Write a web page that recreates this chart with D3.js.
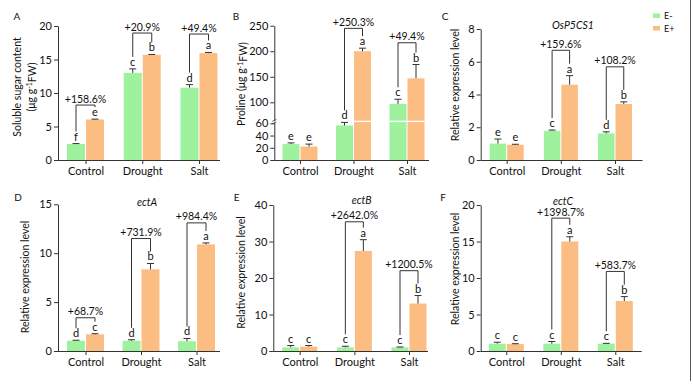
<!DOCTYPE html>
<meta charset="utf-8">
<script src="https://d3js.org/d3.v7.min.js"></script>
<style>
  body { margin: 0; background: #fff; }
  svg text { font-family: Lato, "Open Sans", sans-serif; fill: #111; }
</style>
<body>
<svg id="fig" width="693" height="384"></svg>
<script>

// categories and series
var groups = ["Control", "Drought", "Salt"];
var seriesNames = ["E-", "E+"];

// A - soluble sugar content
var sugarEm = [2.4, 13.0, 10.8], sugarEmSd = [0.05, 0.6, 0.45];
var sugarEp = [6.05, 15.7, 15.95], sugarEpSd = [0.05, 0.05, 0.1];
var sugarLetEm = ["f", "c", "d"], sugarLetEp = ["e", "b", "a"];
var sugarPct = ["+158.6%", "+20.9%", "+49.4%"];
var sugarBracket = [8.2, 18.95, 18.8];
var sugarTicks = [0, 5, 10, 15, 20];

// B - proline
var proEm = [26, 56.5, 97], proEmSd = [2, 5, 9];
var proEp = [22, 200, 147], proEpSd = [4, 6, 27];
var proLetEm = ["e", "d", "c"], proLetEp = ["e", "a", "b"];
var proPct = [null, "+250.3%", "+49.4%"];
var proBracket = [null, 244.8, 216.6];
var proTicksLow = [0, 20, 40, 60], proTicksHigh = [100, 150, 200, 250];

// C - OsP5CS1
var p5Em = [1.0, 1.78, 1.62], p5EmSd = [0.28, 0.05, 0.1];
var p5Ep = [0.93, 4.6, 3.42], p5EpSd = [0.03, 0.55, 0.13];
var p5LetEm = ["e", "c", "d"], p5LetEp = ["e", "a", "b"];
var p5Pct = [null, "+159.6%", "+108.2%"];
var p5Bracket = [null, 6.7, 5.69];
var p5Ticks = [0, 2, 4, 6, 8];

// D - ectA
var aEm = [1.05, 1.05, 1.0], aEmSd = [0.05, 0.1, 0.28];
var aEp = [1.7, 8.35, 10.9], aEpSd = [0.07, 0.6, 0.15];
var aLetEm = ["d", "d", "d"], aLetEp = ["c", "b", "a"];
var aPct = ["+68.7%", "+731.9%", "+984.4%"];
var aBracket = [3.4, 11.5, 13.1];
var aTicks = [0, 5, 10, 15];

// E - ectB
var bEm = [1.0, 1.0, 1.0], bEmSd = [0.5, 0.3, 0.1];
var bEp = [1.2, 27.4, 13.0], bEpSd = [0.3, 3.1, 2.2];
var bLetEm = ["c", "c", "c"], bLetEp = ["c", "a", "b"];
var bPct = [null, "+2642.0%", "+1200.5%"];
var bBracket = [null, 35.4, 22.0];
var bTicks = [0, 10, 20, 30, 40];

// F - ectC
var cEm = [1.0, 1.0, 1.0], cEmSd = [0.2, 0.3, 0.05];
var cEp = [0.95, 15.0, 6.85], cEpSd = [0.05, 0.65, 0.6];
var cLetEm = ["c", "c", "c"], cLetEp = ["c", "a", "b"];
var cPct = [null, "+1398.7%", "+583.7%"];
var cBracket = [null, 18.2, 10.9];
var cTicks = [0, 5, 10, 15, 20];

var colors = ["#9ef29e", "#fbbd82"];
var ink = "#333";

var svg = d3.select("#fig");
svg.append("rect").attr("width", 693).attr("height", 384).attr("fill", "#fff");

// panel layout
var panels = [
  { tag: "A", em: sugarEm, emSd: sugarEmSd, ep: sugarEp, epSd: sugarEpSd, letEm: sugarLetEm, letEp: sugarLetEp,
    pct: sugarPct, bracket: sugarBracket, ticks: sugarTicks, max: 20,
    x0: 58, x1: 220, c0: 85.5, c2: 199, bw: 18, yTop: 26, yBot: 160,
    ylab: ["Soluble sugar content", "(μg g|-1|FW)"], ylx: [17, 31], yly: 87, tagX: 17, tagY: 20 },
  { tag: "B", em: proEm, emSd: proEmSd, ep: proEp, epSd: proEpSd, letEm: proLetEm, letEp: proLetEp,
    pct: proPct, bracket: proBracket, broken: true,
    x0: 274.3, x1: 429, c0: 300, c2: 407, bw: 17, yTop: 25.7, yBot: 160,
    ylab: ["Proline (μg g|-1|FW)"], ylx: [241.7], yly: 84, tagX: 236, tagY: 20 },
  { tag: "C", em: p5Em, emSd: p5EmSd, ep: p5Ep, epSd: p5EpSd, letEm: p5LetEm, letEp: p5LetEp,
    pct: p5Pct, bracket: p5Bracket, ticks: p5Ticks, max: 8, title: "OsP5CS1", titleX: 573, titleY: 25,
    x0: 480.7, x1: 642.5, c0: 506.7, c2: 615, bw: 16.5, yTop: 29, yBot: 160,
    ylab: ["Relative expression level"], ylx: [455], yly: 85, tagX: 445, tagY: 20 },
  { tag: "D", em: aEm, emSd: aEmSd, ep: aEp, epSd: aEpSd, letEm: aLetEm, letEp: aLetEp,
    pct: aPct, bracket: aBracket, ticks: aTicks, max: 15, title: "ectA", titleX: 147, titleY: 202,
    x0: 58, x1: 220, c0: 85.5, c2: 196.5, bw: 18, yTop: 204.3, yBot: 351,
    ylab: ["Relative expression level"], ylx: [25], yly: 277, tagX: 18, tagY: 201 },
  { tag: "E", em: bEm, emSd: bEmSd, ep: bEp, epSd: bEpSd, letEm: bLetEm, letEp: bLetEp,
    pct: bPct, bracket: bBracket, ticks: bTicks, max: 40, title: "ectB", titleX: 361.7, titleY: 200,
    x0: 273.3, x1: 428, c0: 299.7, c2: 409, bw: 17, yTop: 205, yBot: 351,
    ylab: ["Relative expression level"], ylx: [241.7], yly: 272.5, tagX: 236.7, tagY: 201 },
  { tag: "F", em: cEm, emSd: cEmSd, ep: cEp, epSd: cEpSd, letEm: cLetEm, letEp: cLetEp,
    pct: cPct, bracket: cBracket, ticks: cTicks, max: 20, title: "ectC", titleX: 563, titleY: 201,
    x0: 480.7, x1: 641.7, c0: 506.3, c2: 615.3, bw: 17, yTop: 205, yBot: 351,
    ylab: ["Relative expression level"], ylx: [455], yly: 269, tagX: 443, tagY: 201 }
];

function styleAxis(g) {
  g.selectAll("path, line").attr("stroke", ink).attr("stroke-width", 1);
  g.selectAll("text").style("font-size", "11px").attr("fill", "#111");
}

function drawPanel(p) {
  var g = svg.append("g");
  var y;
  if (p.broken) {
    // two-segment scale with a small gap between 62 and 64
    y = d3.scaleLinear().domain([0, 62, 64, 250]).range([p.yBot, 122.1, 120.7, p.yTop]);
    var yLow = d3.scaleLinear().domain([0, 62]).range([p.yBot, 122.1]);
    var yHigh = d3.scaleLinear().domain([64, 250]).range([120.7, p.yTop]);
    g.append("g").attr("transform", "translate(" + p.x0 + ",0)")
      .call(d3.axisLeft(yLow).tickValues(proTicksLow).tickSize(4).tickPadding(2).tickSizeOuter(0))
      .call(styleAxis);
    g.append("g").attr("transform", "translate(" + p.x0 + ",0)")
      .call(d3.axisLeft(yHigh).tickValues(proTicksHigh).tickSize(4).tickPadding(2).tickSizeOuter(0))
      .call(styleAxis);
    // break marks on the axis
    [-1, 1.5].forEach(function (o) {
      g.append("line").attr("x1", p.x0 - 2).attr("x2", p.x0 + 2)
        .attr("y1", y(63) + o + 1).attr("y2", y(63) + o - 1)
        .attr("stroke", ink).attr("stroke-width", 0.8);
    });
  } else {
    y = d3.scaleLinear().domain([0, p.max]).range([p.yBot, p.yTop]);
    g.append("g").attr("transform", "translate(" + p.x0 + ",0)")
      .call(d3.axisLeft(y).tickValues(p.ticks).tickSize(4).tickPadding(2).tickSizeOuter(0))
      .call(styleAxis);
  }

  var x = d3.scalePoint().domain(groups).range([p.c0, p.c2]);

  // x axis
  var xa = d3.axisBottom(x).tickSize(4).tickPadding(3).tickSizeOuter(0);
  var xg = g.append("g").attr("transform", "translate(0," + p.yBot + ")").call(xa).call(styleAxis);
  xg.select(".domain").attr("d", "M" + p.x0 + ",0.5H" + p.x1);

  var rows = groups.map(function (c, i) {
    return [
      { c: c, s: 0, v: p.em[i], sd: p.emSd[i], let: p.letEm[i] },
      { c: c, s: 1, v: p.ep[i], sd: p.epSd[i], let: p.letEp[i] }
    ];
  });

  function bx(d) { return d.s === 0 ? x(d.c) - 0.5 - p.bw : x(d.c) + 0.5; }
  function bc(d) { return bx(d) + p.bw / 2; }

  var flat = [].concat.apply([], rows);

  // bars
  g.selectAll("rect.bar").data(flat).enter().append("rect")
    .attr("class", "bar")
    .attr("x", bx).attr("width", p.bw)
    .attr("y", function (d) { return y(d.v); })
    .attr("height", function (d) { return p.yBot - y(d.v); })
    .attr("fill", function (d) { return colors[d.s]; });

  if (p.broken) {
    // white gap through tall bars
    g.selectAll("rect.gap").data(flat.filter(function (d) { return d.v > 64; })).enter().append("rect")
      .attr("x", bx).attr("width", p.bw)
      .attr("y", y(64)).attr("height", y(62) - y(64))
      .attr("fill", "#fff");
  }

  // error bars
  var eb = g.selectAll("g.err").data(flat).enter().append("g");
  eb.append("line")
    .attr("x1", bc).attr("x2", bc)
    .attr("y1", function (d) { return y(d.v); })
    .attr("y2", function (d) { return y(d.v + d.sd); })
    .attr("stroke", ink).attr("stroke-width", 1);
  eb.append("line")
    .attr("x1", function (d) { return bc(d) - 3.5; })
    .attr("x2", function (d) { return bc(d) + 3.5; })
    .attr("y1", function (d) { return y(d.v + d.sd); })
    .attr("y2", function (d) { return y(d.v + d.sd); })
    .attr("stroke", ink).attr("stroke-width", 1);

  // letters
  g.selectAll("text.let").data(flat).enter().append("text")
    .attr("x", bc)
    .attr("y", function (d) { return y(d.v + d.sd) - 3; })
    .attr("text-anchor", "middle")
    .style("font-size", "11px")
    .text(function (d) { return d.let; });

  // brackets with percent changes
  rows.forEach(function (r, i) {
    if (!p.pct[i]) return;
    var top = y(p.bracket[i]);
    var xl = bc(r[0]), xr = bc(r[1]);
    var yl = y(r[0].v + r[0].sd) - 12, yr = y(r[1].v + r[1].sd) - 12;
    g.append("path")
      .attr("d", "M" + xl + "," + yl + "V" + top + "H" + xr + "V" + yr)
      .attr("fill", "none").attr("stroke", ink).attr("stroke-width", 1);
    g.append("text")
      .attr("x", (xl + xr) / 2).attr("y", top - 2.5)
      .attr("text-anchor", "middle")
      .style("font-size", "10.5px")
      .text(p.pct[i]);
  });

  // y label
  p.ylab.forEach(function (lab, k) {
    var t = g.append("text")
      .attr("transform", "translate(" + p.ylx[k] + "," + p.yly + ") rotate(-90)")
      .attr("text-anchor", "middle").attr("dy", "0.35em")
      .style("font-size", "10.5px");
    lab.split("|").forEach(function (part, j) {
      var ts = t.append("tspan").text(part);
      if (j === 1) ts.attr("dy", "-0.4em").style("font-size", "7px");
      if (j === 2) ts.attr("dy", "0.4em");
    });
  });

  if (p.title) {
    g.append("text").attr("x", p.titleX).attr("y", p.titleY).attr("dy", "0.35em")
      .attr("text-anchor", "middle")
      .style("font-size", "10.5px").style("font-style", "italic")
      .text(p.title);
  }

  g.append("text").attr("x", p.tagX).attr("y", p.tagY)
    .attr("text-anchor", "middle").style("font-size", "10px")
    .text(p.tag);
}

panels.forEach(drawPanel);

// legend
var leg = svg.append("g").attr("transform", "translate(653,0)");
seriesNames.forEach(function (s, i) {
  leg.append("rect").attr("x", 0).attr("y", 13.5 + i * 12.5).attr("width", 7).attr("height", 4.5)
    .attr("fill", colors[i]);
  leg.append("text").attr("x", 11).attr("y", 16 + i * 12.5).attr("dy", "0.35em")
    .style("font-size", "9px").text(s);
});

// frame edge on the right
svg.append("line").attr("x1", 690.5).attr("x2", 690.5).attr("y1", 0).attr("y2", 381)
  .attr("stroke", "#555").attr("stroke-width", 1);

</script>
</body>
